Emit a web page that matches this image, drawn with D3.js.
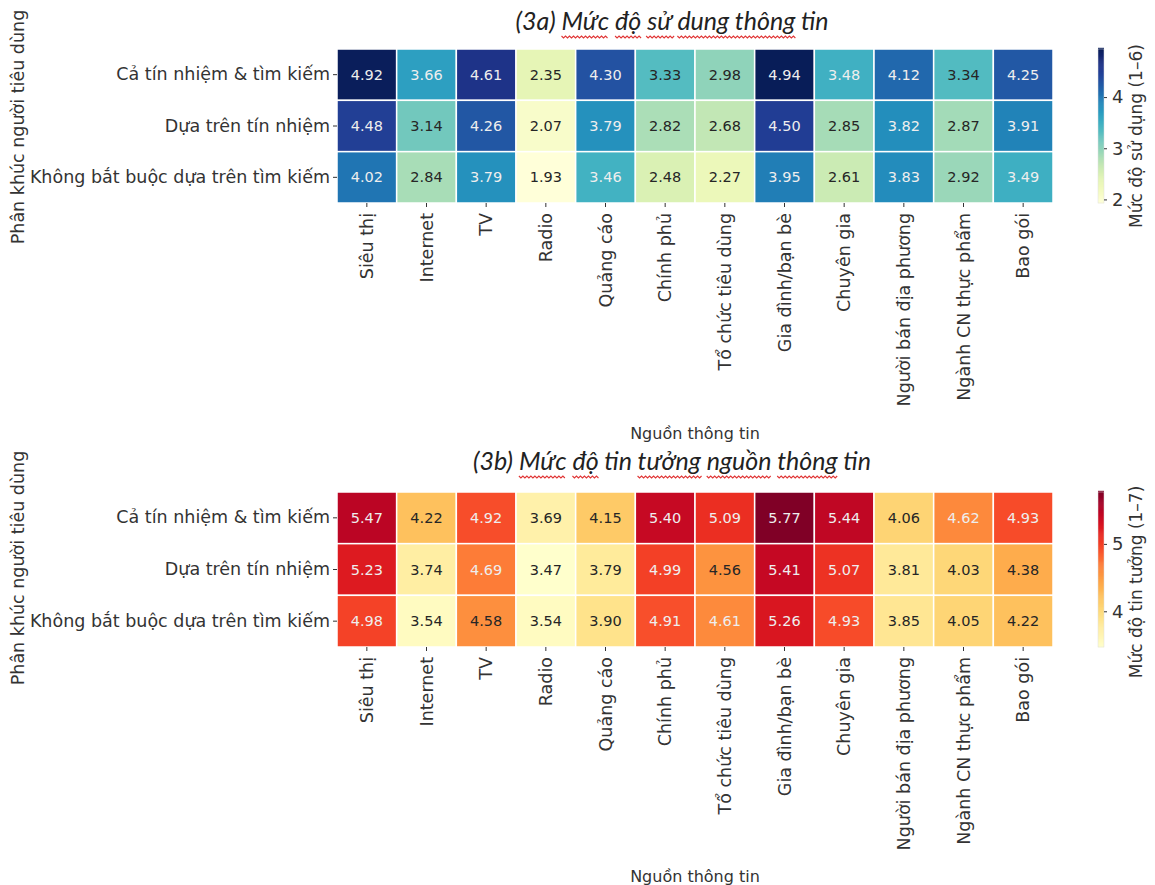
<!DOCTYPE html>
<html>
<head>
<meta charset="utf-8">
<script src="https://cdn.jsdelivr.net/npm/d3@7"></script>
<style>
  body { margin: 0; background: #fff; }
  svg text { font-family: "DejaVu Sans", sans-serif; fill: #333; }
  .title { font-family: Lato, "Open Sans", sans-serif; font-style: italic; font-size: 25px; fill: #222; }
  .axis-label { font-size: 16px; }
  .y-label { font-size: 17.5px; }
  .cbar-label { font-size: 17px; }
  .annot { font-size: 14.5px; }
</style>
</head>
<body>
<svg width="1155" height="885"></svg>
<script>
const svg = d3.select('svg');

// ---- data ----
const segments = ['Cả tín nhiệm & tìm kiếm', 'Dựa trên tín nhiệm', 'Không bắt buộc dựa trên tìm kiếm'];
const sources = ['Siêu thị', 'Internet', 'TV', 'Radio', 'Quảng cáo', 'Chính phủ', 'Tổ chức tiêu dùng',
  'Gia đình/bạn bè', 'Chuyên gia', 'Người bán địa phương', 'Ngành CN thực phẩm', 'Bao gói'];

const usage = [
  [4.92, 3.66, 4.61, 2.35, 4.30, 3.33, 2.98, 4.94, 3.48, 4.12, 3.34, 4.25],
  [4.48, 3.14, 4.26, 2.07, 3.79, 2.82, 2.68, 4.50, 2.85, 3.82, 2.87, 3.91],
  [4.02, 2.84, 3.79, 1.93, 3.46, 2.48, 2.27, 3.95, 2.61, 3.83, 2.92, 3.49]
];
const trust = [
  [5.47, 4.22, 4.92, 3.69, 4.15, 5.40, 5.09, 5.77, 5.44, 4.06, 4.62, 4.93],
  [5.23, 3.74, 4.69, 3.47, 3.79, 4.99, 4.56, 5.41, 5.07, 3.81, 4.03, 4.38],
  [4.98, 3.54, 4.58, 3.54, 3.90, 4.91, 4.61, 5.26, 4.93, 3.85, 4.05, 4.22]
];
const usageTicks = [2, 3, 4];
const trustTicks = [4, 5];

// title parts: [text, spell-check squiggle?]
const titleA = [['(3a) ', false], ['Mức', true], [' ', false], ['độ', true], [' ', false], ['sử', true], [' ', false], ['dung thông', true], [' tin', false]];
const titleB = [['(3b) ', false], ['Mức', true], [' ', false], ['độ', true], [' tin ', false], ['tưởng', true], [' ', false], ['nguồn', true], [' ', false], ['thông', true], [' tin', false]];

const yLabel = 'Phân khúc người tiêu dùng';
const xLabel = 'Nguồn thông tin';

const left = 337, right = 1053;

const luminance = c => {
  const rgb = d3.rgb(c);
  const f = v => { v /= 255; return v <= 0.03928 ? v / 12.92 : Math.pow((v + 0.055) / 1.055, 2.4); };
  return 0.2126 * f(rgb.r) + 0.7152 * f(rgb.g) + 0.0722 * f(rgb.b);
};

const drawTitle = (parts, cx, y) => {
  const t = svg.append('text').attr('class', 'title').attr('x', cx).attr('y', y).attr('text-anchor', 'middle');
  const spans = parts.map(p => t.append('tspan').text(p[0]));
  const squiggle = d3.line();
  parts.forEach((p, i) => {
    if (!p[1]) return;
    const b = spans[i].node().getBBox();
    const pts = [];
    for (let k = 0, x = b.x; x <= b.x + b.width; x += 2, k++) pts.push([x, y + 6 + (k % 2 ? 2 : 0)]);
    svg.append('path').attr('d', squiggle(pts)).attr('fill', 'none').attr('stroke', '#e03535').attr('stroke-width', 1.1);
  });
};

const drawHeatmap = (cfg) => {
  const { data, top, bottom, interp, ticks, cbarLabel, cbarLabelY, title, titleY, xLabelY, yLabelY } = cfg;
  const flat = data.flat();
  const vmin = d3.min(flat), vmax = d3.max(flat);
  const color = d3.scaleSequential(interp).domain([vmin, vmax]);

  const x = d3.scaleBand().domain(sources).range([left, right]);
  const y = d3.scaleBand().domain(segments).range([top, bottom]);

  const cells = [];
  data.forEach((row, i) => row.forEach((v, j) => cells.push({ seg: segments[i], src: sources[j], v })));

  const g = svg.append('g');
  g.selectAll('rect').data(cells).join('rect')
    .attr('x', d => x(d.src)).attr('y', d => y(d.seg))
    .attr('width', x.bandwidth()).attr('height', y.bandwidth())
    .attr('fill', d => color(d.v))
    .attr('stroke', '#fff').attr('stroke-width', 1.5);

  g.selectAll('text.annot').data(cells).join('text')
    .attr('class', 'annot')
    .attr('x', d => x(d.src) + x.bandwidth() / 2)
    .attr('y', d => y(d.seg) + y.bandwidth() / 2)
    .attr('text-anchor', 'middle').attr('dominant-baseline', 'central')
    .style('fill', d => luminance(color(d.v)) > 0.408 ? '#262626' : '#eeeeee')
    .text(d => d.v.toFixed(2));

  // axes
  const xAxisG = svg.append('g').attr('transform', `translate(0,${bottom})`)
    .call(d3.axisBottom(x).tickSize(4));
  xAxisG.select('.domain').remove();
  xAxisG.selectAll('line').attr('stroke', '#333');
  xAxisG.selectAll('text').attr('fill', null)
    .attr('transform', 'rotate(-90)').attr('text-anchor', 'end')
    .attr('x', -10).attr('y', 0).attr('dy', '0.35em').style('font-size', '17.5px').style('font-family', null);

  const yAxisG = svg.append('g').attr('transform', `translate(${left},0)`)
    .call(d3.axisLeft(y).tickSize(4).tickPadding(3));
  yAxisG.select('.domain').remove();
  yAxisG.selectAll('line').attr('stroke', '#333');
  yAxisG.selectAll('text').attr('fill', null).style('font-size', '17.5px').style('font-family', null);

  svg.append('text').attr('class', 'axis-label')
    .attr('x', 695).attr('y', xLabelY).attr('text-anchor', 'middle').text(xLabel);
  svg.append('text').attr('class', 'y-label')
    .attr('transform', `translate(24,${yLabelY}) rotate(-90)`).attr('text-anchor', 'middle').text(yLabel);

  drawTitle(title, 672, titleY);

  // colorbar
  const cx0 = 1098, cw = 6;
  const cy = d3.scaleLinear().domain([vmin, vmax]).range([bottom, top]);
  const steps = d3.range(0, 1.0001, 1 / 150);
  svg.append('g').selectAll('rect').data(steps).join('rect')
    .attr('x', cx0).attr('width', cw)
    .attr('y', t => cy(vmin + t * (vmax - vmin)) - 1.2)
    .attr('height', 1.6)
    .attr('fill', t => interp(t));
  svg.append('rect').attr('x', cx0).attr('y', top).attr('width', cw).attr('height', bottom - top)
    .attr('fill', 'none').attr('stroke', '#ddd').attr('stroke-width', 0.5);
  const cAxis = svg.append('g').attr('transform', `translate(${cx0 + cw},0)`)
    .call(d3.axisRight(cy).tickValues(ticks).tickFormat(d3.format('d')).tickSize(3).tickPadding(5));
  cAxis.select('.domain').remove();
  cAxis.selectAll('line').attr('stroke', '#333');
  cAxis.selectAll('text').attr('fill', null).style('font-size', '18px').style('font-family', null);
  svg.append('text').attr('class', 'cbar-label')
    .attr('transform', `translate(1142,${cbarLabelY}) rotate(-90)`)
    .attr('text-anchor', 'middle').text(cbarLabel);
};

drawHeatmap({
  data: usage, top: 49, bottom: 203, interp: d3.interpolateYlGnBu, ticks: usageTicks,
  cbarLabel: 'Mức độ sử dụng (1–6)', cbarLabelY: 136,
  title: titleA, titleY: 30, xLabelY: 439, yLabelY: 127
});
drawHeatmap({
  data: trust, top: 492, bottom: 647, interp: d3.interpolateYlOrRd, ticks: trustTicks,
  cbarLabel: 'Mức độ tin tưởng (1–7)', cbarLabelY: 582,
  title: titleB, titleY: 470, xLabelY: 882, yLabelY: 568
});
</script>
</body>
</html>
